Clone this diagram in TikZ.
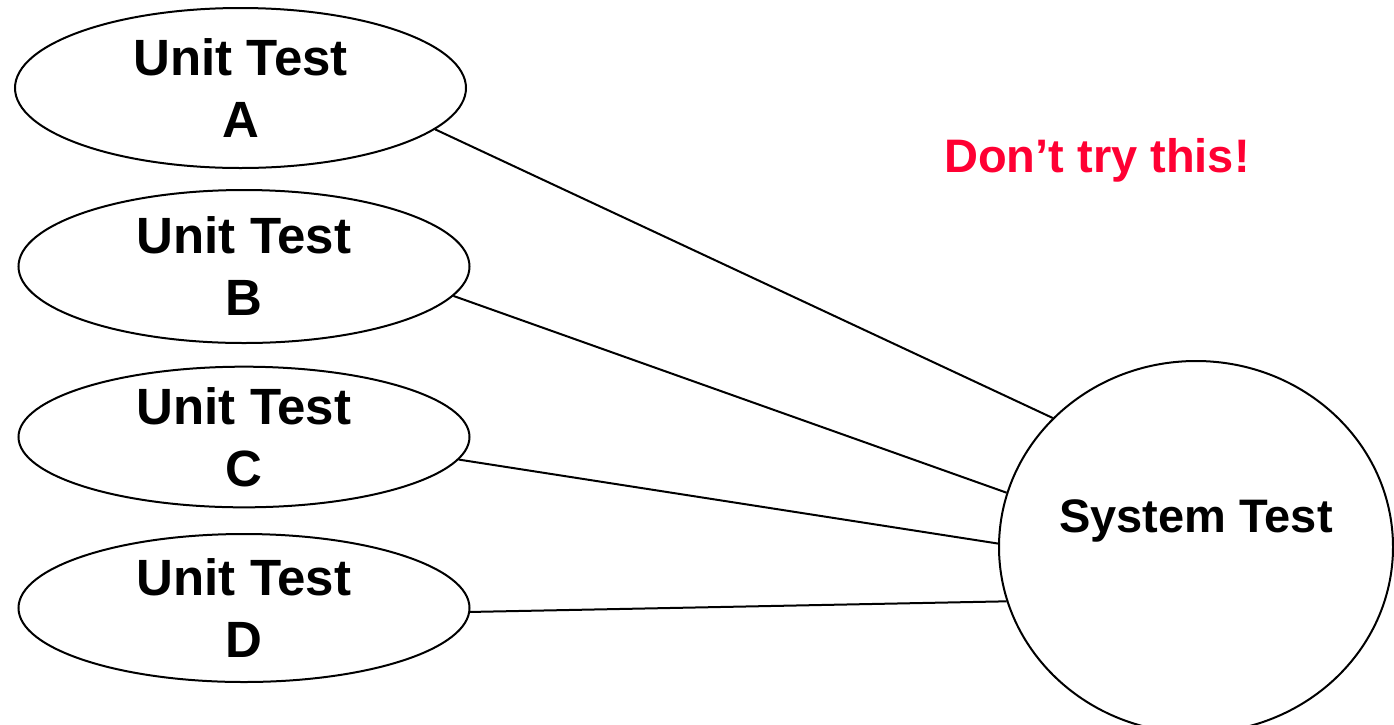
\documentclass[tikz,border=0pt]{standalone}
\usepackage{fontspec}
\setmainfont{Liberation Sans}
\usepackage{tikz}
\usetikzlibrary{shapes.geometric}
\definecolor{warnred}{RGB}{255,0,51}

\begin{document}
\begin{tikzpicture}[
  x=1pt, y=-1pt,
  every node/.style={font=\bfseries},
  unitbox/.style={draw, ellipse, line width=2pt, inner sep=0pt, minimum width=451pt,
                  align=center, font=\fontsize{51}{62}\selectfont\bfseries},
  sysbox/.style={draw, ellipse, line width=2pt, inner sep=0pt, minimum width=394pt,
                 minimum height=372pt, text depth=62pt, font=\fontsize{47}{56}\selectfont\bfseries},
  link/.style={line width=2pt},
]

% Page frame
\useasboundingbox (0, 0) rectangle (1394, 724);

% Unit tests
\node[unitbox, minimum height=160pt] (unitA) at (240.5, 88) {Unit Test\\A};
\node[unitbox, minimum height=153pt] (unitB) at (244, 266.5) {Unit Test\\B};
\node[unitbox, minimum height=140pt] (unitC) at (244, 437) {Unit Test\\C};
\node[unitbox, minimum height=148pt] (unitD) at (244, 608) {Unit Test\\D};

% System test
\node[sysbox] (system) at (1196, 547) {System Test};

% Warning
\node[anchor=base, text=warnred, font=\fontsize{47}{56}\selectfont\bfseries] (warn) at (1097, 172) {Don’t try this!};

% Links into system test
\draw[link] (unitA.-12.5) -- (system.138);
\draw[link] (unitB.-8) -- (system.164.5);
\draw[link] (unitC.-6.5) -- (system.179.4);
\draw[link] (unitD.-1.8) -- (system.196);

\end{tikzpicture}
\end{document}
